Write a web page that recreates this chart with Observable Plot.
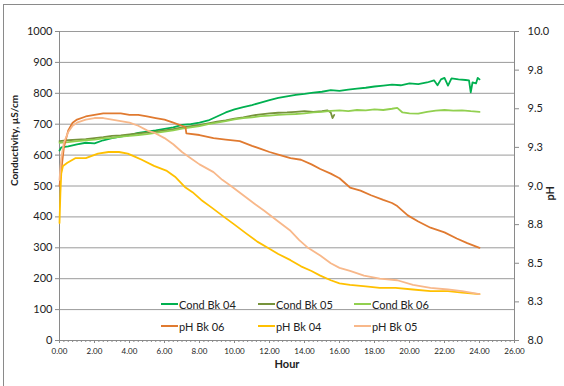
<!DOCTYPE html>
<html>
<head>
<meta charset="utf-8">
<script src="https://cdn.jsdelivr.net/npm/d3@7"></script>
<script src="https://cdn.jsdelivr.net/npm/@observablehq/plot@0.6"></script>
<style>
  html, body { margin: 0; padding: 0; background: #fff; }
  #wrap { position: relative; width: 564px; height: 386px; overflow: hidden; font-family: Lato, "Open Sans", sans-serif; }
  #wrap svg { position: absolute; left: 0; top: 0; }
  #border { position: absolute; left: 3px; top: 4px; width: 700px; height: 500px;
            border-left: 1px solid #8a8a8a; border-top: 1px solid #8a8a8a; pointer-events: none; }
  .lg { position: absolute; display: flex; align-items: center; font-size: 11px; color: #222; white-space: nowrap; }
  .lg i { display: inline-block; width: 17px; height: 2px; margin-right: 1px; }
</style>
</head>
<body>
<div id="wrap"><div id="border"></div></div>
<script>
// Conductivity (µS/cm) against hour
const condBk04Hours = [0, 0.1, 0.5, 1, 1.5, 2, 2.5, 3, 3.5, 4, 4.5, 5, 5.5, 6, 6.5, 7, 7.5, 8, 8.5, 9, 9.5, 10, 10.5, 11, 11.5, 12, 12.5, 13, 13.5, 14, 14.5, 15, 15.5, 16, 16.5, 17, 17.5, 18, 18.5, 19, 19.5, 20, 20.5, 21, 21.4, 21.6, 21.8, 22, 22.2, 22.4, 22.8, 23.2, 23.4, 23.5, 23.6, 23.8, 23.9, 24];
const condBk04 = [615, 625, 628, 635, 640, 638, 648, 655, 660, 665, 672, 676, 680, 685, 690, 698, 700, 705, 712, 725, 738, 748, 755, 762, 770, 778, 785, 790, 795, 798, 802, 805, 810, 808, 812, 815, 818, 822, 825, 828, 826, 832, 830, 835, 842, 826, 845, 850, 825, 848, 845, 843, 842, 803, 835, 832, 850, 845];

const condBk05Hours = [0, 0.5, 1, 1.5, 2, 2.5, 3, 3.5, 4, 4.5, 5, 5.5, 6, 6.5, 7, 7.5, 8, 8.5, 9, 9.5, 10, 10.5, 11, 11.5, 12, 12.5, 13, 13.5, 14, 14.5, 15, 15.3, 15.5, 15.6, 15.7];
const condBk05 = [645, 648, 650, 652, 655, 658, 662, 664, 667, 670, 673, 676, 680, 684, 690, 694, 698, 703, 708, 712, 718, 722, 728, 732, 735, 737, 738, 740, 742, 740, 742, 745, 738, 720, 730];

const condBk06Hours = [0, 0.5, 1, 1.5, 2, 2.5, 3, 3.5, 4, 4.5, 5, 5.5, 6, 6.5, 7, 7.5, 8, 8.5, 9, 9.5, 10, 10.5, 11, 11.5, 12, 12.5, 13, 13.5, 14, 14.5, 15, 15.5, 16, 16.5, 17, 17.5, 18, 18.5, 19, 19.3, 19.6, 20, 20.5, 21, 21.5, 22, 22.5, 23, 23.5, 24];
const condBk06 = [640, 642, 645, 648, 650, 654, 656, 660, 662, 665, 668, 672, 676, 680, 686, 690, 694, 700, 705, 710, 716, 720, 722, 726, 728, 730, 732, 733, 735, 738, 740, 743, 745, 742, 746, 745, 748, 746, 750, 753, 738, 735, 734, 740, 744, 746, 744, 745, 742, 740];

// pH against hour
const phBk06Hours = [0, 0.1, 0.25, 0.5, 0.75, 1, 1.5, 2, 2.5, 3, 3.5, 4, 4.5, 5, 5.5, 6, 6.5, 7, 7.2, 7.25, 8, 8.8, 9.5, 10.3, 11, 11.5, 12, 12.6, 13.2, 13.8, 14.4, 14.9, 15.5, 16, 16.6, 17.2, 17.8, 18.5, 19, 19.3, 19.9, 20.5, 21.2, 22, 22.7, 23.3, 24];
const phBk06 = [9.0, 9.10, 9.25, 9.36, 9.41, 9.43, 9.45, 9.46, 9.47, 9.47, 9.47, 9.46, 9.46, 9.45, 9.44, 9.43, 9.41, 9.39, 9.38, 9.34, 9.33, 9.31, 9.30, 9.29, 9.26, 9.24, 9.22, 9.20, 9.18, 9.17, 9.14, 9.11, 9.08, 9.05, 8.99, 8.97, 8.94, 8.91, 8.89, 8.87, 8.81, 8.77, 8.73, 8.70, 8.66, 8.63, 8.60];

const phBk04Hours = [0, 0.05, 0.1, 0.2, 0.45, 0.9, 1.5, 2.2, 2.8, 3.4, 3.9, 4.3, 4.7, 5.4, 6.1, 6.6, 7.2, 7.6, 8.1, 8.7, 9.4, 10, 10.7, 11.3, 11.9, 12.5, 13.2, 13.8, 14.4, 14.9, 15.5, 16, 16.6, 17.5, 18.3, 19.2, 20.2, 21.2, 22.2, 23, 24];
const phBk04 = [8.76, 8.95, 9.08, 9.13, 9.15, 9.18, 9.18, 9.21, 9.22, 9.22, 9.21, 9.19, 9.17, 9.13, 9.10, 9.06, 8.99, 8.96, 8.91, 8.86, 8.80, 8.75, 8.69, 8.64, 8.60, 8.56, 8.52, 8.48, 8.45, 8.42, 8.39, 8.37, 8.36, 8.35, 8.34, 8.34, 8.33, 8.32, 8.32, 8.31, 8.30];

const phBk05Hours = [0, 0.1, 0.25, 0.5, 0.75, 1, 1.5, 2, 2.5, 3, 3.5, 4, 4.5, 5, 5.5, 6, 6.5, 7, 7.5, 8, 8.8, 9.3, 9.8, 10.5, 11.2, 11.7, 12.5, 13.2, 13.7, 14.2, 14.9, 15.5, 16, 16.6, 17.4, 18.3, 19.3, 20.2, 21.2, 22.2, 23, 24];
const phBk05 = [9.04, 9.18, 9.28, 9.35, 9.39, 9.41, 9.43, 9.44, 9.44, 9.43, 9.42, 9.41, 9.39, 9.36, 9.34, 9.31, 9.27, 9.22, 9.18, 9.14, 9.09, 9.04, 9.00, 8.94, 8.88, 8.84, 8.77, 8.71, 8.65, 8.60, 8.55, 8.50, 8.47, 8.45, 8.42, 8.40, 8.39, 8.36, 8.34, 8.33, 8.32, 8.30];

// Axis ticks
const condTicks = [0, 100, 200, 300, 400, 500, 600, 700, 800, 900, 1000];
const phTicks = [8.0, 8.25, 8.5, 8.75, 9.0, 9.25, 9.5, 9.75, 10.0];
const hourTicks = [0, 2, 4, 6, 8, 10, 12, 14, 16, 18, 20, 22, 24, 26];

const series = [
  {name: "Cond Bk 04", kind: "cond", hours: condBk04Hours, values: condBk04, color: "#00B050"},
  {name: "Cond Bk 05", kind: "cond", hours: condBk05Hours, values: condBk05, color: "#77933C"},
  {name: "Cond Bk 06", kind: "cond", hours: condBk06Hours, values: condBk06, color: "#92D050"},
  {name: "pH Bk 06", kind: "ph", hours: phBk06Hours, values: phBk06, color: "#E07A30"},
  {name: "pH Bk 04", kind: "ph", hours: phBk04Hours, values: phBk04, color: "#FFC000"},
  {name: "pH Bk 05", kind: "ph", hours: phBk05Hours, values: phBk05, color: "#F8B88A"}
];

// pH (8–10) shares the conductivity scale (0–1000) through a linear map
const phMin = 8, phMax = 10, condMax = 1000;
const phToCond = p => (p - phMin) / (phMax - phMin) * condMax;
const condToPh = c => phMin + c / condMax * (phMax - phMin);

const minorHours = d3.range(0, 26.001, 0.25);

const lineMarks = series.map(s => {
  const rows = s.hours.map((h, i) => ({hour: h, y: s.kind === "ph" ? phToCond(s.values[i]) : s.values[i]}));
  return Plot.line(rows, {x: "hour", y: "y", stroke: s.color, strokeWidth: 1.8, curve: "linear"});
});

const chart = Plot.plot({
  width: 564,
  height: 386,
  marginLeft: 59,
  marginRight: 50,
  marginTop: 31,
  marginBottom: 46,
  style: {fontFamily: "Lato, 'Open Sans', sans-serif", fontSize: "11px", color: "#222", background: "transparent"},
  x: {domain: [0, 26]},
  y: {domain: [0, condMax]},
  marks: [
    Plot.gridY(condTicks.slice(1), {stroke: "#9a9a9a", strokeOpacity: 1, strokeWidth: 1}),
    Plot.ruleX([0, 26], {stroke: "#8a8a8a"}),
    Plot.ruleY([0], {stroke: "#8a8a8a"}),
    Plot.axisY(condTicks, {anchor: "left", tickSize: 4, tickPadding: 3, stroke: "#8a8a8a", fontSize: 11, label: null,
      tickFormat: d => String(d)}),
    Plot.axisY(phTicks.map(phToCond), {anchor: "right", tickSize: 4, tickPadding: 9, stroke: "#8a8a8a", fontSize: 11, label: null,
      tickFormat: d => condToPh(d).toFixed(1)}),
    Plot.axisX(minorHours, {anchor: "bottom", tickSize: 2, tickFormat: () => "", stroke: "#8a8a8a", label: null}),
    Plot.axisX(hourTicks, {anchor: "bottom", tickSize: 3, tickPadding: 5, stroke: "#8a8a8a", fontSize: 8, label: null,
      tickFormat: d => d.toFixed(2)}),
    ...lineMarks,
    Plot.text(["Hour"], {frameAnchor: "bottom", dy: 27, fontWeight: "bold", fontSize: 11}),
    Plot.text(["Conductivity, µS/cm"], {frameAnchor: "left", dx: -45, rotate: -90, fontWeight: "bold", fontSize: 10}),
    Plot.text(["pH"], {frameAnchor: "right", dx: 36, rotate: -90, fontWeight: "bold", fontSize: 11})
  ]
});

const wrap = document.getElementById("wrap");
wrap.insertBefore(chart, wrap.firstChild);

// Legend inside the plot area, two rows of three
const legendPos = [[161, 304], [258, 304], [354, 304], [161, 326], [258, 326], [354, 326]];
series.forEach((s, i) => {
  const el = document.createElement("div");
  el.className = "lg";
  el.style.left = legendPos[i][0] + "px";
  el.style.top = (legendPos[i][1] - 8) + "px";
  el.style.height = "16px";
  const sw = document.createElement("i");
  sw.style.background = s.color;
  el.appendChild(sw);
  el.appendChild(document.createTextNode(s.name));
  wrap.appendChild(el);
});
</script>
</body>
</html>
